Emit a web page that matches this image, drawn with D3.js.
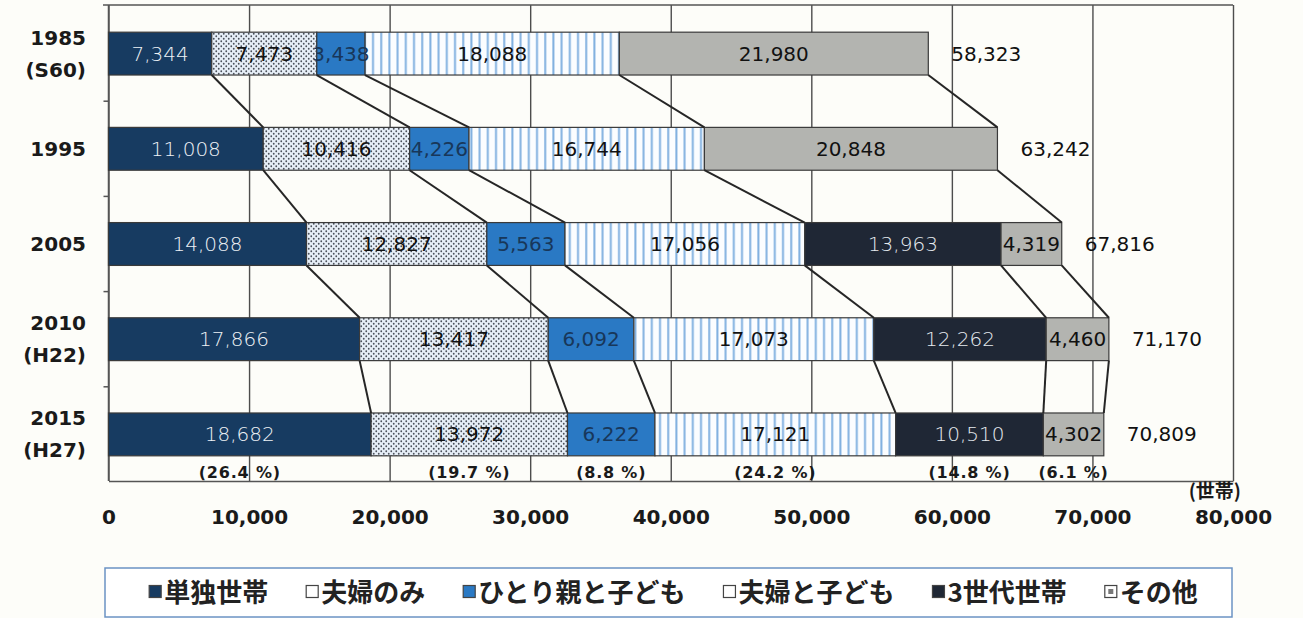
<!DOCTYPE html>
<html>
<head>
<meta charset="utf-8">
<script src="https://cdn.jsdelivr.net/npm/d3@7"></script>
<style>
  html, body { margin: 0; padding: 0; background: #fdfdf9; }
  svg { display: block; }
</style>
</head>
<body>
<svg id="chart" width="1303" height="618"></svg>
<script>
// Households by family type (世帯数)
const years = ["1985", "1995", "2005", "2010", "2015"];
const eraLabels = ["(S60)", "", "", "(H22)", "(H27)"];
const categories = ["単独世帯", "夫婦のみ", "ひとり親と子ども", "夫婦と子ども", "3世代世帯", "その他"];

const singlePerson       = [7344, 11008, 14088, 17866, 18682];
const coupleOnly         = [7473, 10416, 12827, 13417, 13972];
const singleParent       = [3438, 4226, 5563, 6092, 6222];
const coupleWithChildren = [18088, 16744, 17056, 17073, 17121];
const threeGeneration    = [0, 0, 13963, 12262, 10510]; // counted under その他 before 2005
const otherHouseholds    = [21980, 20848, 4319, 4460, 4302];
const totals             = [58323, 63242, 67816, 71170, 70809];
const shares2015         = ["26.4", "19.7", "8.8", "24.2", "14.8", "6.1"];
const xTickValues        = [0, 10000, 20000, 30000, 40000, 50000, 60000, 70000, 80000];

const series = [singlePerson, coupleOnly, singleParent, coupleWithChildren, threeGeneration, otherHouseholds];

const fills       = ["#173b61", "url(#dots)", "#2a79c4", "url(#stripes)", "#1f2735", "#b3b4b0"];
const labelColors = ["#eef2f6", "#111111", "#18375a", "#111111", "#e6ebf0", "#111111"];
const labelWeights = [200, 400, 400, 400, 200, 400];
const swatches    = ["#173b61", "#ffffff", "#2a79c4", "#ffffff", "#1f2735", "#ffffff"];

const svg = d3.select("#chart");
const numFont = "'DejaVu Sans', sans-serif";
const cjkFont = "'Noto Sans CJK JP', sans-serif";

// patterns
const defs = svg.append("defs");
const dots = defs.append("pattern").attr("id", "dots")
  .attr("patternUnits", "userSpaceOnUse").attr("width", 5).attr("height", 5);
dots.append("rect").attr("width", 5).attr("height", 5).attr("fill", "#e6eef7");
dots.append("circle").attr("cx", 1.25).attr("cy", 1.25).attr("r", 0.9).attr("fill", "#4a505a");
dots.append("circle").attr("cx", 3.75).attr("cy", 3.75).attr("r", 0.9).attr("fill", "#4a505a");

const stripes = defs.append("pattern").attr("id", "stripes")
  .attr("patternUnits", "userSpaceOnUse").attr("width", 8.2).attr("height", 10);
stripes.append("rect").attr("width", 8.2).attr("height", 10).attr("fill", "#fbfdff");
stripes.append("rect").attr("x", 3).attr("width", 2).attr("height", 10).attr("fill", "#82b1e0");

// scales
const x = d3.scaleLinear().domain([0, 80000]).range([108.5, 1233]);
const y = d3.scaleBand().domain(years).range([6, 482]).paddingInner(0.55).paddingOuter(0.275);
const bw = y.bandwidth();
const plotTop = 5, plotBottom = 481;

// grid + bottom axis
const xAxis = d3.axisBottom(x)
  .tickValues(xTickValues)
  .tickFormat(d3.format(","))
  .tickSizeInner(-(plotBottom - plotTop))
  .tickSizeOuter(0)
  .tickPadding(29);
const gx = svg.append("g").attr("transform", `translate(0,${plotBottom})`).call(xAxis);
gx.select(".domain").attr("stroke", "#555").attr("stroke-width", 1.5);
gx.selectAll(".tick line").attr("stroke", "#4d4d4d").attr("stroke-width", 1.4);
gx.selectAll(".tick text")
  .attr("fill", "#1a1a1a").style("font-family", numFont)
  .style("font-size", "20px").style("font-weight", "bold");

// frame top and left axis
svg.append("line").attr("x1", 103).attr("x2", x.range()[1]).attr("y1", plotTop).attr("y2", plotTop)
  .attr("stroke", "#555").attr("stroke-width", 1.6);
svg.append("line").attr("x1", x(0)).attr("x2", x(0)).attr("y1", plotTop).attr("y2", plotBottom)
  .attr("stroke", "#555").attr("stroke-width", 1.5);
const boundaries = years.slice(1).map(yr => y(yr) - y.step() * y.paddingInner() / 2);
svg.selectAll(".ytick").data(boundaries).join("line")
  .attr("x1", x(0) - 5).attr("x2", x(0)).attr("y1", d => d).attr("y2", d => d)
  .attr("stroke", "#555").attr("stroke-width", 1.5);

// segments
const segments = [];
const cumulative = years.map(() => []);
years.forEach((yr, i) => {
  let cum = 0;
  series.forEach((s, k) => {
    const v = s[i];
    if (v > 0) segments.push({ yr, i, k, x0: cum, x1: cum + v, v });
    cum += v;
    cumulative[i][k] = cum;
  });
});

svg.append("g").selectAll("rect").data(segments).join("rect")
  .attr("x", d => x(d.x0))
  .attr("y", d => y(d.yr))
  .attr("width", d => x(d.x1) - x(d.x0))
  .attr("height", bw)
  .attr("fill", d => fills[d.k])
  .attr("stroke", "#3a3a3a")
  .attr("stroke-width", 1.2);

// connectors between consecutive years
const links = [];
for (let i = 0; i < years.length - 1; i++) {
  series.forEach((s, k) => {
    if (s[i] > 0 && s[i + 1] > 0) {
      links.push({ xa: cumulative[i][k], ya: y(years[i]) + bw, xb: cumulative[i + 1][k], yb: y(years[i + 1]) });
    }
  });
}
svg.append("g").selectAll("line").data(links).join("line")
  .attr("x1", d => x(d.xa)).attr("y1", d => d.ya)
  .attr("x2", d => x(d.xb)).attr("y2", d => d.yb)
  .attr("stroke", "#262626").attr("stroke-width", 2);

// segment value labels
svg.append("g").selectAll("text").data(segments).join("text")
  .attr("x", d => x((d.x0 + d.x1) / 2))
  .attr("y", d => y(d.yr) + bw / 2)
  .attr("text-anchor", "middle")
  .attr("dominant-baseline", "central")
  .attr("fill", d => labelColors[d.k])
  .style("font-family", numFont)
  .style("font-weight", d => labelWeights[d.k])
  .style("font-size", "20px")
  .text(d => d3.format(",")(d.v));

// totals
svg.append("g").selectAll("text").data(years).join("text")
  .attr("x", (d, i) => x(totals[i]) + 23)
  .attr("y", d => y(d) + bw / 2)
  .attr("dominant-baseline", "central")
  .attr("fill", "#111")
  .style("font-family", numFont)
  .style("font-size", "20px")
  .text((d, i) => d3.format(",")(totals[i]));

// year labels
const yl = svg.append("g").selectAll("text").data(years).join("text")
  .attr("x", 86)
  .attr("text-anchor", "end")
  .attr("fill", "#1a1a1a")
  .style("font-family", numFont)
  .style("font-size", "20px")
  .style("font-weight", "bold");
yl.each(function (d, i) {
  const t = d3.select(this);
  const cy = y(d) + bw / 2;
  if (eraLabels[i]) {
    t.append("tspan").attr("x", 86).attr("y", cy - 16).attr("dominant-baseline", "central").text(d);
    t.append("tspan").attr("x", 86).attr("y", cy + 16).attr("dominant-baseline", "central").text(eraLabels[i]);
  } else {
    t.append("tspan").attr("x", 86).attr("y", cy).attr("dominant-baseline", "central").text(d);
  }
});

// 2015 shares
const last = years.length - 1;
const lastSegs = segments.filter(d => d.i === last);
svg.append("g").selectAll("text").data(lastSegs).join("text")
  .attr("x", d => x((d.x0 + d.x1) / 2))
  .attr("y", y(years[last]) + bw + 17)
  .attr("text-anchor", "middle")
  .attr("dominant-baseline", "central")
  .attr("fill", "#1a1a1a")
  .style("font-family", numFont)
  .style("font-weight", "bold")
  .style("font-size", "16px")
  .style("letter-spacing", "0.8px")
  .text(d => `(${shares2015[d.k]} %)`);

// unit
svg.append("text")
  .attr("x", 1241).attr("y", 489)
  .attr("text-anchor", "end")
  .attr("dominant-baseline", "central")
  .attr("fill", "#1a1a1a")
  .style("font-family", cjkFont)
  .style("font-weight", "bold")
  .style("font-size", "19px")
  .text("(世帯)");

// legend
const lgX0 = 105, lgX1 = 1232, lgY0 = 568, lgY1 = 617;
svg.append("rect").attr("x", lgX0).attr("y", lgY0).attr("width", lgX1 - lgX0).attr("height", lgY1 - lgY0)
  .attr("fill", "#ffffff").attr("stroke", "#6b93c4").attr("stroke-width", 1.5);
const lg = svg.append("g");
const items = lg.selectAll("g").data(categories).join("g");
items.append("rect")
  .attr("x", 0).attr("y", -5).attr("width", 12).attr("height", 12)
  .attr("fill", (d, k) => swatches[k]).attr("stroke", "#444").attr("stroke-width", 1.2);
items.filter((d, k) => k === 5).append("rect")
  .attr("x", 3.5).attr("y", -1.5).attr("width", 5).attr("height", 5).attr("fill", "#777");
items.append("text")
  .attr("x", 15).attr("y", 0)
  .attr("dominant-baseline", "central")
  .attr("fill", "#222")
  .style("font-family", cjkFont)
  .style("font-weight", "bold")
  .style("font-size", "26px")
  .text(d => d);
const legendGap = 38;
let cursor = 0;
items.each(function () {
  const w = this.getBBox().width;
  d3.select(this).attr("transform", `translate(${cursor},0)`);
  cursor += w + legendGap;
});
const legendWidth = cursor - legendGap;
lg.attr("transform", `translate(${(lgX0 + lgX1) / 2 - legendWidth / 2 + 5},${(lgY0 + lgY1) / 2 - 2})`);
</script>
</body>
</html>
